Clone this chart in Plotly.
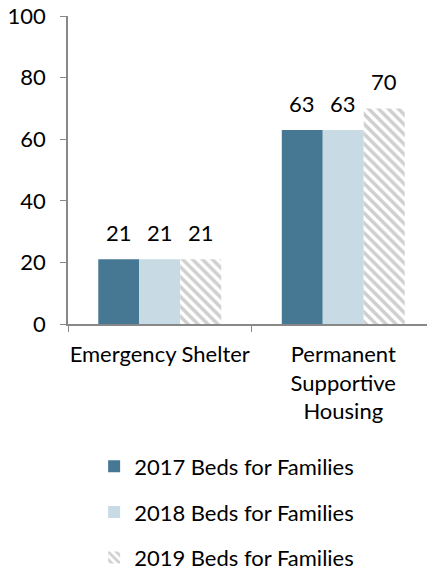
import plotly.graph_objects as go

categories = ["Emergency Shelter", "Permanent<br>Supportive<br>Housing"]
series_names = ["2017 Beds for Families", "2018 Beds for Families", "2019 Beds for Families"]
beds_2017 = [21, 63]
beds_2018 = [21, 63]
beds_2019 = [21, 70]

FONT = "Lato"
TEXT_COLOR = "#000000"
AXIS_COLOR = "#888888"

fig = go.Figure()

styles = [
    {"color": "#467893"},
    {"color": "#c8dbe5"},
    {
        "color": "#ffffff",
        "pattern": {"shape": "\\", "fgcolor": "#a0a0a0", "bgcolor": "#ffffff",
                    "size": 7, "solidity": 0.5},
    },
]

# bar width in px is ~41, used to shift the value labels over each bar
bar_shift = [-41, 0, 41]

for i, (name, values) in enumerate(zip(series_names, [beds_2017, beds_2018, beds_2019])):
    fig.add_trace(
        go.Bar(
            x=categories,
            y=values,
            name=name,
            marker=dict(line=dict(width=0), **styles[i]),
            legendgroup=str(i),
        )
    )
    for cat, v in zip(categories, values):
        fig.add_annotation(
            x=cat,
            y=v,
            text=str(v),
            showarrow=False,
            xshift=bar_shift[i],
            yanchor="bottom",
            yshift=11,
            font=dict(family=FONT, size=22, color=TEXT_COLOR),
        )

# the page body adds an 8px offset, so margins are trimmed to match
fig.update_layout(
    width=435,
    height=569,
    barmode="group",
    bargap=0.33,
    bargroupgap=0,
    plot_bgcolor="white",
    paper_bgcolor="white",
    font=dict(family=FONT, size=22, color=TEXT_COLOR),
    margin=dict(l=60, r=8, t=8, b=253, autoexpand=False),
    showlegend=True,
    legend=dict(
        orientation="v",
        xref="container",
        yref="container",
        x=0.198,
        xanchor="left",
        y=0.231,
        yanchor="top",
        traceorder="grouped",
        tracegroupgap=14,
        font=dict(family=FONT, size=22, color=TEXT_COLOR),
    ),
    xaxis=dict(
        showline=True,
        linecolor=AXIS_COLOR,
        linewidth=1.5,
        ticks="outside",
        tickson="boundaries",
        ticklen=6,
        tickcolor=AXIS_COLOR,
        tickangle=0,
        ticklabelstandoff=10,
        showgrid=False,
    ),
    yaxis=dict(
        range=[0, 100],
        dtick=20,
        showline=True,
        linecolor=AXIS_COLOR,
        linewidth=1.5,
        ticks="outside",
        ticklen=6,
        tickcolor=AXIS_COLOR,
        ticklabelstandoff=10,
        ticklabeloverflow="allow",
        showgrid=False,
        zeroline=False,
    ),
)

fig.write_html("out.html")
